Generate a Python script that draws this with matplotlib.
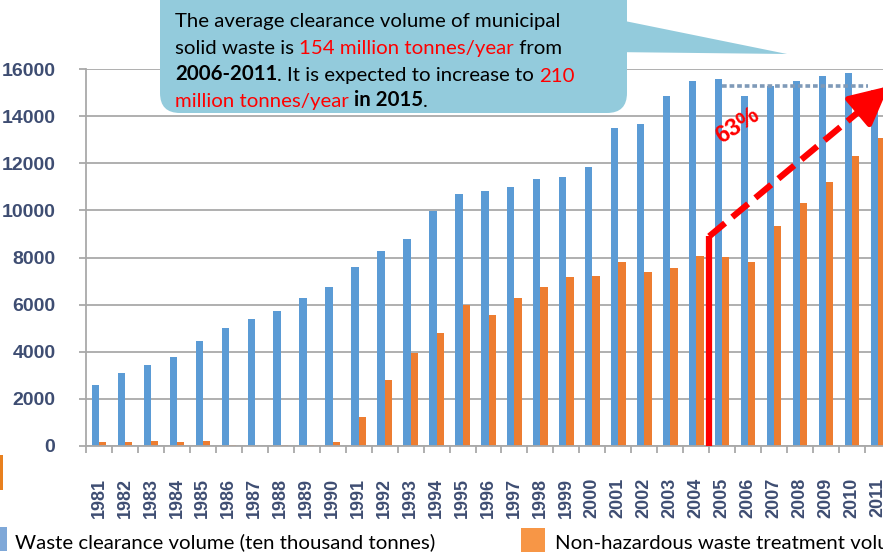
import numpy as np
import matplotlib.pyplot as plt
from matplotlib.patches import FancyBboxPatch, Polygon, Rectangle
from matplotlib.text import Annotation

# data (ten thousand tonnes)
years = ['1981', '1982', '1983', '1984', '1985', '1986', '1987', '1988', '1989', '1990',
         '1991', '1992', '1993', '1994', '1995', '1996', '1997', '1998', '1999', '2000',
         '2001', '2002', '2003', '2004', '2005', '2006', '2007', '2008', '2009', '2010', '2011']
clearance = [2600, 3110, 3440, 3780, 4470, 5000, 5400, 5740, 6280, 6760,
             7610, 8260, 8770, 9960, 10680, 10810, 10990, 11320, 11400, 11820,
             13480, 13670, 14870, 15510, 15580, 14870, 15260, 15470, 15720, 15820, 15110]
treatment = [150, 180, 230, 150, 230, 30, 10, 40, 50, 180,
             1240, 2800, 3960, 4780, 5980, 5560, 6270, 6760, 7190, 7230,
             7820, 7400, 7540, 8080, 8030, 7820, 9350, 10300, 11220, 12310, 13060]
yticks = [0, 2000, 4000, 6000, 8000, 10000, 12000, 14000, 16000]

W, H = 883, 553
lab_col = '#3e4d72'
grid_col = '#a9a9a9'
tick_font = 'Liberation Sans'
txt_font = 'Lato'

def px(x, y):
    # pixel position (from top-left) -> inches for dpi_scale_trans
    return x / 100, (H - y) / 100

fig = plt.figure(figsize=(W / 100, H / 100), dpi=100)
ax = fig.add_axes([86 / W, 107 / H, 805 / W, 377 / H])

x = np.arange(len(years))
ax.bar(x - 0.14, clearance, 0.28, color='#5b9bd5', zorder=2)
ax.bar(x + 0.14, treatment, 0.28, color='#ed7d31', zorder=2)

ax.set_xlim(-0.5, len(years) - 0.5)
ax.set_ylim(0, 16000)
ax.set_yticks(yticks)
ax.grid(axis='y', color=grid_col, lw=1.3, zorder=0)
ax.set_axisbelow(True)
for s in ['top', 'right']:
    ax.spines[s].set_visible(False)
for s in ['left', 'bottom']:
    ax.spines[s].set_color(grid_col)
    ax.spines[s].set_linewidth(1.3)

ax.set_xticks(x)
ax.set_xticklabels(years, rotation=90)
ax.set_xticks(np.arange(-0.5, len(years)), minor=True)
ax.tick_params(axis='x', which='major', length=0, pad=23)
ax.tick_params(axis='x', which='minor', length=5, color=grid_col, width=1.3)
ax.tick_params(axis='y', length=5, color=grid_col, width=1.3, pad=17)
for lab in ax.get_xticklabels():
    lab.set(fontfamily=tick_font, fontweight='bold', fontsize=13, color=lab_col)
for lab in ax.get_yticklabels():
    lab.set(fontfamily=tick_font, fontweight='bold', fontsize=14, color=lab_col)

# red growth marker
ax.plot([23.5, 23.5], [0, 8900], color='red', lw=4.5, solid_capstyle='butt', zorder=4)
ax.plot([23.5, 29.6], [8900, 14500], color='red', lw=4.5, dashes=(3.3, 1.5), zorder=4)
ax.annotate('', xy=(30.5, 15350), xytext=(29.5, 14420),
            arrowprops=dict(arrowstyle='-|>,head_length=1.2,head_width=0.6',
                            mutation_scale=20, color='red', lw=4), zorder=5)
ax.plot([24.0, 29.6], [15280, 15280], color='#7f9ab8', lw=2.6, dashes=(1.3, 0.8), zorder=4)
ax.text(24.6, 13580, '63%', rotation=33, color='red', fontweight='bold', fontsize=17,
        fontfamily=tick_font, ha='center', va='center', zorder=5)

# callout box
tr = fig.dpi_scale_trans
x0, y0 = px(160, 113)
box = FancyBboxPatch((x0, y0), 4.67, 1.4, boxstyle='round,pad=0,rounding_size=0.2',
                     transform=tr, fc='#93cbdc', ec='none', zorder=5)
fig.add_artist(box)
tail = Polygon([px(610, 18), px(610, 52), px(787, 54)], closed=True,
               transform=tr, fc='#93cbdc', ec='none', zorder=5)
fig.add_artist(tail)

callout = [
    [('The average clearance volume of municipal', 'black', 'normal')],
    [('solid waste is ', 'black', 'normal'), ('154 million tonnes/year', 'red', 'normal'),
     (' from', 'black', 'normal')],
    [('2006-2011', 'black', 'bold'), ('. It is expected to increase to ', 'black', 'normal'),
     ('210', 'red', 'normal')],
    [('million tonnes/year', 'red', 'normal'), (' in 2015', 'black', 'bold'),
     ('.', 'black', 'normal')],
]
baselines = [27, 54, 80.5, 107]
for parts, by in zip(callout, baselines):
    prev = None
    for txt, col, wt in parts:
        if prev is None:
            prev = fig.text(175 / W, (H - by) / H, txt, color=col, fontweight=wt,
                            fontsize=14.7, fontfamily=txt_font, va='baseline', zorder=6)
        else:
            ann = Annotation(txt, xy=(1, 0), xycoords=prev, va='bottom', ha='left',
                             color=col, fontweight=wt, fontsize=14.7, fontfamily=txt_font,
                             zorder=6)
            fig.add_artist(ann)
            prev = ann

# legend pieces along the bottom
fig.add_artist(Rectangle(px(-17, 551), 0.24, 0.24, transform=tr, fc='#7fa8d8', ec='none'))
fig.add_artist(Rectangle(px(521, 552), 0.24, 0.24, transform=tr, fc='#f79646', ec='none'))
fig.add_artist(Rectangle(px(0, 490), 0.03, 0.35, transform=tr, fc='#e8801e', ec='none'))
fig.text(15 / W, (H - 548) / H, 'Waste clearance volume (ten thousand tonnes)',
         fontsize=14.7, fontfamily=txt_font, va='baseline')
fig.text(555 / W, (H - 548) / H, 'Non-hazardous waste treatment volume (ten thousand tonnes)',
         fontsize=14.7, fontfamily=txt_font, va='baseline')

fig.savefig('out.png', dpi=100)
